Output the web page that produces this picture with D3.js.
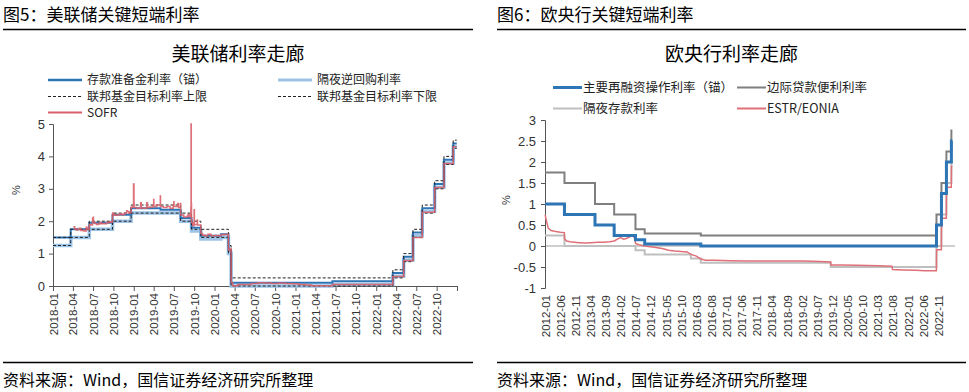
<!DOCTYPE html>
<html><head><meta charset="utf-8">
<script src="https://cdn.jsdelivr.net/npm/d3@7"></script>
<style>
body{margin:0;background:#fff;}
svg{display:block;font-family:"Liberation Sans",Arial,sans-serif;}
.cjk{font-family:"Noto Sans CJK SC","Noto Sans",sans-serif;}
</style></head>
<body><svg id="c" width="969" height="392"></svg>
<script>
// ---------- Fed (left) data ----------
const fedDates = ["2018-01-01","2018-03-22","2018-06-14","2018-09-27","2018-12-20","2019-05-02","2019-08-01","2019-09-19","2019-10-31","2020-01-30","2020-03-04","2020-03-16","2021-06-17","2022-03-17","2022-05-05","2022-06-16","2022-07-28","2022-09-22","2022-11-03","2022-12-15","2022-12-31"];
const ioer  = [1.50,1.75,1.95,2.20,2.40,2.35,2.10,1.80,1.55,1.60,1.10,0.10,0.15,0.40,0.90,1.65,2.40,3.15,3.90,4.40,4.40];
const onrrp = [1.25,1.50,1.75,2.00,2.25,2.25,2.00,1.70,1.45,1.50,1.00,0.00,0.05,0.30,0.80,1.55,2.30,3.05,3.80,4.30,4.30];
const fedUpper = [1.50,1.75,2.00,2.25,2.50,2.50,2.25,2.00,1.75,1.75,1.25,0.25,0.25,0.50,1.00,1.75,2.50,3.25,4.00,4.50,4.50];
const fedLower = [1.25,1.50,1.75,2.00,2.25,2.25,2.00,1.75,1.50,1.50,1.00,0.00,0.00,0.25,0.75,1.50,2.25,3.00,3.75,4.25,4.25];
const sofr = [["2018-04-03",1.83],["2018-04-09",1.76],["2018-04-16",1.73],["2018-04-23",1.74],["2018-04-30",1.78],["2018-05-07",1.71],["2018-05-14",1.72],["2018-05-21",1.70],["2018-05-31",1.81],["2018-06-04",1.75],["2018-06-11",1.74],["2018-06-14",1.90],["2018-06-21",1.88],["2018-06-29",2.09],["2018-07-02",2.12],["2018-07-03",1.96],["2018-07-10",1.93],["2018-07-17",1.90],["2018-07-24",1.91],["2018-07-31",1.96],["2018-08-07",1.92],["2018-08-14",1.93],["2018-08-21",1.92],["2018-08-31",1.96],["2018-09-07",1.95],["2018-09-14",1.98],["2018-09-21",1.97],["2018-09-27",2.18],["2018-09-28",2.25],["2018-10-01",2.20],["2018-10-10",2.18],["2018-10-17",2.19],["2018-10-24",2.21],["2018-10-31",2.23],["2018-11-07",2.20],["2018-11-14",2.21],["2018-11-21",2.25],["2018-11-30",2.32],["2018-12-03",2.30],["2018-12-10",2.25],["2018-12-17",2.28],["2018-12-20",2.43],["2018-12-27",2.45],["2018-12-31",3.15],["2019-01-02",2.55],["2019-01-03",2.42],["2019-01-15",2.40],["2019-01-31",2.45],["2019-02-01",2.57],["2019-02-04",2.41],["2019-02-15",2.40],["2019-02-28",2.43],["2019-03-01",2.57],["2019-03-04",2.42],["2019-03-15",2.44],["2019-03-29",2.50],["2019-04-01",2.67],["2019-04-02",2.45],["2019-04-15",2.50],["2019-04-30",2.48],["2019-05-01",2.78],["2019-05-02",2.45],["2019-05-15",2.42],["2019-05-31",2.45],["2019-06-14",2.40],["2019-06-28",2.50],["2019-07-01",2.60],["2019-07-02",2.45],["2019-07-19",2.55],["2019-07-22",2.42],["2019-07-31",2.55],["2019-08-01",2.19],["2019-08-15",2.13],["2019-08-30",2.15],["2019-09-03",2.20],["2019-09-10",2.14],["2019-09-16",2.43],["2019-09-17",5.00],["2019-09-18",2.55],["2019-09-19",1.95],["2019-09-25",1.86],["2019-10-01",2.35],["2019-10-02",1.90],["2019-10-15",2.04],["2019-10-16",1.88],["2019-10-31",1.62],["2019-11-08",1.57],["2019-11-20",1.55],["2019-12-02",1.60],["2019-12-16",1.55],["2019-12-31",1.55],["2020-01-02",1.56],["2020-01-15",1.55],["2020-01-30",1.58],["2020-02-14",1.59],["2020-03-02",1.60],["2020-03-04",1.10],["2020-03-12",1.15],["2020-03-16",0.26],["2020-03-17",0.10],["2020-03-23",0.01],["2020-04-15",0.05],["2020-05-15",0.05],["2020-06-15",0.08],["2020-07-15",0.10],["2020-08-15",0.09],["2020-09-15",0.08],["2020-10-15",0.09],["2020-11-16",0.08],["2020-12-15",0.07],["2021-01-15",0.05],["2021-02-16",0.03],["2021-03-15",0.01],["2021-04-15",0.01],["2021-05-17",0.01],["2021-06-17",0.05],["2021-09-15",0.05],["2021-12-15",0.05],["2022-03-17",0.29],["2022-05-05",0.79],["2022-06-16",1.50],["2022-07-28",2.28],["2022-09-22",3.04],["2022-11-03",3.78],["2022-12-15",4.30],["2022-12-31",4.30]];
const fedYTicks = [0,1,2,3,4,5];
const fedXLabels = ["2018-01","2018-04","2018-07","2018-10","2019-01","2019-04","2019-07","2019-10","2020-01","2020-04","2020-07","2020-10","2021-01","2021-04","2021-07","2021-10","2022-01","2022-04","2022-07","2022-10"];

// ---------- ECB (right) data ----------
const ecbDates = ["2012-01-01","2012-07-11","2013-05-08","2013-11-13","2014-06-11","2014-09-10","2015-12-09","2016-03-16","2019-09-18","2022-07-27","2022-09-14","2022-11-02","2022-12-21","2022-12-31"];
const mro = [1.00,0.75,0.50,0.25,0.15,0.05,0.05,0.00,0.00,0.50,1.25,2.00,2.50,2.50];
const mlf = [1.75,1.50,1.00,0.75,0.40,0.30,0.30,0.25,0.25,0.75,1.50,2.25,2.75,2.75];
const dfr = [0.25,0.00,0.00,0.00,-0.10,-0.20,-0.30,-0.40,-0.50,0.00,0.75,1.50,2.00,2.00];
const estr = [["2012-01-02",0.74],["2012-01-20",0.55],["2012-02-03",0.42],["2012-03-01",0.37],["2012-04-02",0.35],["2012-05-02",0.34],["2012-06-01",0.33],["2012-07-10",0.32],["2012-07-12",0.17],["2012-08-01",0.12],["2012-09-03",0.10],["2012-12-03",0.08],["2013-02-01",0.07],["2013-04-01",0.08],["2013-06-03",0.09],["2013-08-01",0.09],["2013-10-01",0.10],["2013-11-14",0.12],["2013-12-20",0.17],["2014-01-15",0.20],["2014-02-14",0.16],["2014-03-14",0.18],["2014-04-15",0.22],["2014-05-15",0.25],["2014-06-05",0.18],["2014-06-12",0.06],["2014-07-15",0.03],["2014-09-11",0.00],["2014-10-15",-0.01],["2014-12-15",-0.03],["2015-03-02",-0.06],["2015-05-04",-0.10],["2015-07-01",-0.12],["2015-09-01",-0.13],["2015-11-02",-0.14],["2015-12-10",-0.20],["2016-02-01",-0.24],["2016-03-17",-0.31],["2016-05-02",-0.34],["2016-08-01",-0.34],["2017-01-02",-0.35],["2017-06-01",-0.36],["2018-01-02",-0.36],["2018-06-01",-0.36],["2019-01-02",-0.36],["2019-06-03",-0.37],["2019-09-17",-0.38],["2019-09-19",-0.45],["2020-01-02",-0.45],["2020-06-01",-0.46],["2021-01-04",-0.47],["2021-05-14",-0.48],["2021-05-20",-0.56],["2021-09-01",-0.57],["2022-01-03",-0.58],["2022-04-01",-0.59],["2022-07-26",-0.59],["2022-07-28",-0.09],["2022-09-13",-0.09],["2022-09-15",0.66],["2022-11-01",0.66],["2022-11-03",1.40],["2022-12-20",1.40],["2022-12-22",1.90],["2022-12-31",1.90]];
const ecbYTicks = [-1,-0.5,0,0.5,1,1.5,2,2.5,3];
const ecbXLabels = ["2012-01","2012-06","2012-11","2013-04","2013-09","2014-02","2014-07","2014-12","2015-05","2015-10","2016-03","2016-08","2017-01","2017-06","2017-11","2018-04","2018-09","2019-02","2019-07","2019-12","2020-05","2020-10","2021-03","2021-08","2022-01","2022-06","2022-11"];

const parse = d3.timeParse("%Y-%m-%d");
const svg = d3.select("#c");

// ---------- frame texts ----------
function frame(x0, x1, head){
  svg.append("text").attr("class","cjk").attr("x",x0).attr("y",21).attr("font-size",17).attr("fill","#000").text(head);
  svg.append("line").attr("x1",x0).attr("x2",x1).attr("y1",29.5).attr("y2",29.5).attr("stroke","#000").attr("stroke-width",1.5);
  svg.append("line").attr("x1",x0).attr("x2",x1).attr("y1",362.5).attr("y2",362.5).attr("stroke","#000").attr("stroke-width",1.5);
  svg.append("text").attr("class","cjk").attr("x",x0).attr("y",386).attr("font-size",16).attr("fill","#000").text("资料来源：Wind，国信证券经济研究所整理");
}
frame(3,473,"图5：美联储关键短端利率");
frame(497,966,"图6：欧央行关键短端利率");

// ================= LEFT CHART =================
{
  const x = d3.scaleTime().domain([parse("2018-01-01"), parse("2023-01-01")]).range([53, 457]);
  const y = d3.scaleLinear().domain([0,5]).range([286,124]);
  const g = svg.append("g");
  svg.append("text").attr("class","cjk").attr("x",238).attr("y",61).attr("text-anchor","middle").attr("font-size",19).text("美联储利率走廊");

  // axes
  const ya = g.append("g").attr("transform","translate(53,0)")
    .call(d3.axisLeft(y).tickValues(fedYTicks).tickSize(4).tickPadding(4).tickFormat(d3.format("d")));
  ya.selectAll("text").attr("font-size",13).attr("fill","#333");
  ya.selectAll("line,path").attr("stroke","#555");
  const quarters = fedXLabels.map(parse_m).concat([parse("2023-01-01")]);
  function parse_m(s){ return parse(s+"-01"); }
  const fmt = d3.timeFormat("%Y-%m");
  const xa = g.append("g").attr("transform","translate(0,286)")
    .call(d3.axisBottom(x).tickValues(quarters).tickSize(5).tickSizeOuter(0)
      .tickFormat(d => d.getFullYear() === 2023 ? "" : fmt(d)));
  xa.selectAll("line,path").attr("stroke","#555");
  xa.selectAll("text").attr("transform","rotate(-90)").attr("text-anchor","end")
    .attr("x",-7).attr("y",0).attr("dy","0.35em").attr("font-size",11.5).attr("fill","#333");
  svg.append("text").attr("transform","translate(20,190) rotate(-90)").attr("text-anchor","middle").attr("font-size",11).attr("fill","#333").text("%");

  const stepLine = d3.line().curve(d3.curveStepAfter).x(d=>x(d[0])).y(d=>y(d[1]));
  const fd = fedDates.map(parse);
  const series = arr => fd.map((d,i)=>[d,arr[i]]);
  g.append("path").attr("d",stepLine(series(onrrp))).attr("fill","none").attr("stroke","#9dc3e6").attr("stroke-width",3.5);
  g.append("path").attr("d",stepLine(series(ioer))).attr("fill","none").attr("stroke","#2e75b6").attr("stroke-width",2);
  g.append("path").attr("d",stepLine(series(fedUpper))).attr("fill","none").attr("stroke","#222").attr("stroke-width",1).attr("stroke-dasharray","3,2");
  g.append("path").attr("d",stepLine(series(fedLower))).attr("fill","none").attr("stroke","#222").attr("stroke-width",1).attr("stroke-dasharray","3,2");
  g.append("path").attr("d",stepLine(sofr.map(d=>[parse(d[0]),d[1]]))).attr("fill","none").attr("stroke","#d9606a").attr("stroke-width",1.5).attr("stroke-opacity",0.9);

  // legend
  const leg = [
    {t:"存款准备金利率（锚）", c:"#2e75b6", w:2.5, dash:null, x:48, y:80},
    {t:"隔夜逆回购利率", c:"#9dc3e6", w:3, dash:null, x:278, y:80},
    {t:"联邦基金目标利率上限", c:"#222", w:1, dash:"3,2", x:48, y:96.5},
    {t:"联邦基金目标利率下限", c:"#222", w:1, dash:"3,2", x:278, y:96.5},
    {t:"SOFR", c:"#d9606a", w:2, dash:null, x:48, y:112.5}
  ];
  leg.forEach(l=>{
    svg.append("line").attr("x1",l.x).attr("x2",l.x+34).attr("y1",l.y).attr("y2",l.y)
      .attr("stroke",l.c).attr("stroke-width",l.w).attr("stroke-dasharray",l.dash);
    svg.append("text").attr("class","cjk").attr("x",l.x+39).attr("y",l.y).attr("dy","0.36em").attr("font-size",12).attr("fill","#222").text(l.t);
  });
}

// ================= RIGHT CHART =================
{
  const x = d3.scaleTime().domain([parse("2012-01-01"), parse("2023-01-01")]).range([545, 952.5]);
  const y = d3.scaleLinear().domain([-1,3]).range([288,120]);
  const g = svg.append("g");
  svg.append("text").attr("class","cjk").attr("x",731.5).attr("y",61).attr("text-anchor","middle").attr("font-size",19).text("欧央行利率走廊");

  // zero line
  g.append("line").attr("x1",545).attr("x2",955).attr("y1",y(0)).attr("y2",y(0)).attr("stroke","#bfbfbf").attr("stroke-width",1.5);

  const ya = g.append("g").attr("transform","translate(545,0)")
    .call(d3.axisLeft(y).tickValues(ecbYTicks).tickSize(4).tickPadding(5).tickFormat(d=>String(d)));
  ya.selectAll("text").attr("font-size",13).attr("fill","#333");
  ya.selectAll("line,path").attr("stroke","#555");
  svg.append("text").attr("transform","translate(510,200) rotate(-90)").attr("text-anchor","middle").attr("font-size",11).attr("fill","#333").text("%");

  const lab = d3.scalePoint().domain(ecbXLabels).range([545, 938.3]);
  const xa = g.append("g").attr("transform","translate(0,288)")
    .call(d3.axisBottom(lab).tickSize(0));
  xa.select("path").remove();
  xa.selectAll("text").attr("transform","rotate(-90)").attr("text-anchor","end")
    .attr("x",-7).attr("y",0).attr("dy","0.35em").attr("font-size",11.5).attr("fill","#333");

  const stepLine = d3.line().curve(d3.curveStepAfter).x(d=>x(d[0])).y(d=>y(d[1]));
  const ed = ecbDates.map(parse);
  const series = arr => ed.map((d,i)=>[d,arr[i]]);
  g.append("path").attr("d",stepLine(series(dfr))).attr("fill","none").attr("stroke","#bfbfbf").attr("stroke-width",2);
  g.append("path").attr("d",d3.line().x(d=>x(parse(d[0]))).y(d=>y(d[1]))(estr)).attr("fill","none").attr("stroke","#e07078").attr("stroke-width",1.5);
  g.append("path").attr("d",stepLine(series(mlf))).attr("fill","none").attr("stroke","#7f7f7f").attr("stroke-width",2);
  g.append("path").attr("d",stepLine(series(mro))).attr("fill","none").attr("stroke","#2e75b6").attr("stroke-width",3);

  const leg = [
    {t:"主要再融资操作利率（锚）", c:"#2e75b6", w:3, x:553, y:87.5},
    {t:"边际贷款便利利率", c:"#7f7f7f", w:2, x:737, y:87.5},
    {t:"隔夜存款利率", c:"#bfbfbf", w:2, x:553, y:108.5},
    {t:"ESTR/EONIA", c:"#e07078", w:2, x:737, y:108.5}
  ];
  leg.forEach(l=>{
    svg.append("line").attr("x1",l.x).attr("x2",l.x+29).attr("y1",l.y).attr("y2",l.y)
      .attr("stroke",l.c).attr("stroke-width",l.w);
    svg.append("text").attr("class","cjk").attr("x",l.x+30).attr("y",l.y).attr("dy","0.36em").attr("font-size",12.5).attr("fill","#222").text(l.t);
  });
}
</script></body></html>
